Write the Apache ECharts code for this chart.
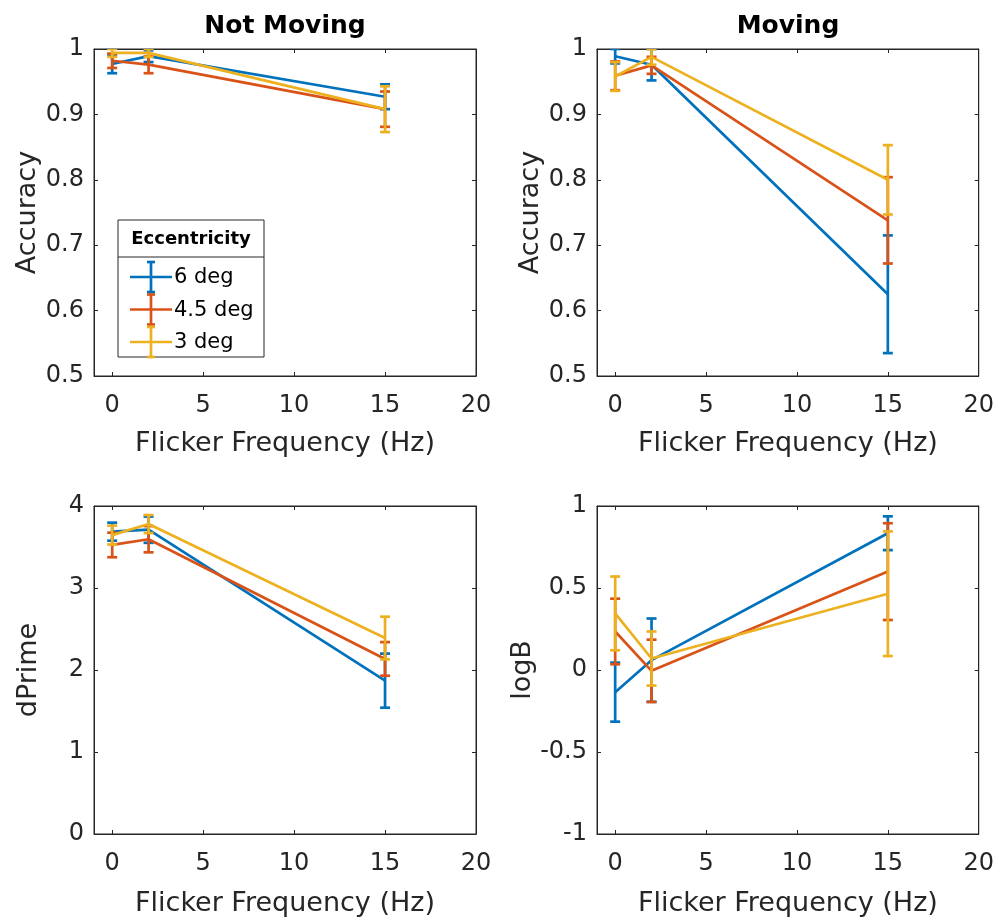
<!DOCTYPE html>
<html><head><meta charset="utf-8">
<script src="https://cdn.jsdelivr.net/npm/echarts@6/dist/echarts.min.js"></script>
<style>html,body{margin:0;padding:0;background:#fff}#c{width:997px;height:920px}</style>
</head><body><div id="c"></div><script>
// ---------- data ----------
const freqs = [0, 2, 15];
const seriesNames = ['6 deg', '4.5 deg', '3 deg'];
const xTicks = [0, 5, 10, 15, 20];
const panelTitles = ['Not Moving', 'Moving'];
const xName = 'Flicker Frequency (Hz)';
const yNames = ['Accuracy', 'Accuracy', 'dPrime', 'logB'];

// Not Moving - Accuracy
const accStill6 = [0.977, 0.989, 0.927];
const accStill6Err = [0.014, 0.009, 0.019];
const accStill45 = [0.982, 0.976, 0.908];
const accStill45Err = [0.011, 0.013, 0.027];
const accStill3 = [0.994, 0.994, 0.908];
const accStill3Err = [0.006, 0.006, 0.035];

// Moving - Accuracy
const accMove6 = [0.989, 0.976, 0.625];
const accMove6Err = [0.011, 0.024, 0.090];
const accMove45 = [0.959, 0.975, 0.738];
const accMove45Err = [0.022, 0.013, 0.066];
const accMove3 = [0.958, 0.988, 0.800];
const accMove3Err = [0.022, 0.012, 0.053];

// Not Moving - dPrime
const dpStill6 = [3.687, 3.711, 1.870];
const dpStill6Err = [0.110, 0.160, 0.330];
const dpStill45 = [3.525, 3.595, 2.135];
const dpStill45Err = [0.150, 0.160, 0.205];
const dpStill3 = [3.645, 3.780, 2.390];
const dpStill3Err = [0.115, 0.110, 0.260];

// Moving - logB
const lbMove6 = [-0.135, 0.060, 0.834];
const lbMove6Err = [0.180, 0.254, 0.103];
const lbMove45 = [0.235, -0.005, 0.600];
const lbMove45Err = [0.200, 0.190, 0.295];
const lbMove3 = [0.345, 0.070, 0.465];
const lbMove3Err = [0.225, 0.165, 0.380];

// ---------- layout / style ----------
const colors = ['#0072BD', '#D95319', '#EDB120'];
const FONT = 'DejaVu Sans';
const AX = '#262626';
const LW = 2.7;
const panels = [
  {grid:{left:94, top:49, width:382, height:327}, y:[0.5,1,0.1], vals:[[accStill6,accStill6Err],[accStill45,accStill45Err],[accStill3,accStill3Err]]},
  {grid:{left:597, top:49, width:382, height:327}, y:[0.5,1,0.1], vals:[[accMove6,accMove6Err],[accMove45,accMove45Err],[accMove3,accMove3Err]]},
  {grid:{left:94, top:506, width:382, height:328}, y:[0,4,1], vals:[[dpStill6,dpStill6Err],[dpStill45,dpStill45Err],[dpStill3,dpStill3Err]]},
  {grid:{left:597, top:506, width:382, height:328}, y:[-1,1,0.5], vals:[[lbMove6,lbMove6Err],[lbMove45,lbMove45Err],[lbMove3,lbMove3Err]]}
];

const grids = [], xAxes = [], yAxes = [], series = [];
const fmt = v => String(parseFloat(Number(v).toFixed(2)));

panels.forEach((p, pi) => {
  grids.push(Object.assign({show:true, borderColor:AX, borderWidth:1, backgroundColor:'#fff', containLabel:false}, p.grid));
  const baseX = {gridIndex:pi, type:'value', min:-1, max:20,
    splitLine:{show:false}, axisLine:{show:true, onZero:false, lineStyle:{color:AX, width:1}}};
  xAxes.push(Object.assign({}, baseX, {position:'bottom',
    name:xName, nameLocation:'middle', nameGap:pi < 2 ? 54 : 56,
    nameTextStyle:{fontFamily:FONT, fontSize:27, color:AX},
    axisTick:{show:true, inside:true, length:4, lineStyle:{color:AX}, customValues:xTicks},
    axisLabel:{show:true, margin:18, fontFamily:FONT, fontSize:24, color:AX, customValues:xTicks, formatter:fmt}}));
  xAxes.push(Object.assign({}, baseX, {position:'top',
    axisTick:{show:true, inside:true, length:4, lineStyle:{color:AX}, customValues:xTicks},
    axisLabel:{show:false}}));
  const baseY = {gridIndex:pi, type:'value', min:p.y[0], max:p.y[1], interval:p.y[2],
    splitLine:{show:false}, axisLine:{show:true, onZero:false, lineStyle:{color:AX, width:1}}};
  yAxes.push(Object.assign({}, baseY, {position:'left',
    name:yNames[pi], nameLocation:'middle', nameGap:52, nameRotate:90,
    nameTextStyle:{fontFamily:FONT, fontSize:27, color:AX},
    axisTick:{show:true, inside:true, length:4, lineStyle:{color:AX}},
    axisLabel:{show:true, margin:10, padding:[7,0,0,0], fontFamily:FONT, fontSize:24, color:AX, formatter:fmt}}));
  yAxes.push(Object.assign({}, baseY, {position:'right',
    axisTick:{show:true, inside:true, length:4, lineStyle:{color:AX}},
    axisLabel:{show:false}}));

  p.vals.forEach((pair, si) => {
    const [m, e] = pair;
    const col = colors[si];
    series.push({
      type:'line', name:seriesNames[si], xAxisIndex:2*pi, yAxisIndex:2*pi,
      data: freqs.map((f, k) => [f, m[k]]),
      showSymbol:false, symbol:'none', lineStyle:{color:col, width:LW}, itemStyle:{color:col},
      z:2+si, silent:true, animation:false, clip:true
    });
    series.push({
      type:'custom', name:seriesNames[si], xAxisIndex:2*pi, yAxisIndex:2*pi,
      data: freqs.map((f, k) => [f, m[k], e[k]]),
      encode:{x:0, y:1},
      z:2+si, silent:true, animation:false, clip:true,
      renderItem: (params, api) => {
        const x = api.value(0), y = api.value(1), er = api.value(2);
        const t = api.coord([x, y + er]);
        const b = api.coord([x, y - er]);
        const cw = 5;
        const st = {stroke:col, lineWidth:LW, fill:null};
        return {type:'group', children:[
          {type:'line', shape:{x1:t[0], y1:t[1], x2:b[0], y2:b[1]}, style:st},
          {type:'line', shape:{x1:t[0]-cw, y1:t[1], x2:t[0]+cw, y2:t[1]}, style:st},
          {type:'line', shape:{x1:b[0]-cw, y1:b[1], x2:b[0]+cw, y2:b[1]}, style:st}
        ]};
      }
    });
  });
});

// ---------- titles + legend (graphics) ----------
const graphics = [];
panelTitles.forEach((t, i) => {
  const g = panels[i].grid;
  graphics.push({type:'text', x:g.left + g.width/2, y:26, z:10,
    style:{text:t, fontFamily:FONT, fontWeight:'bold', fontSize:25, fill:'#000', align:'center', verticalAlign:'middle'}});
});
const lg = {x:118, y:220, w:146, h:137, head:37, row0:277, rowStep:32.5};
const legendChildren = [
  {type:'rect', shape:{x:lg.x, y:lg.y, width:lg.w, height:lg.h}, style:{fill:'#fff', stroke:AX, lineWidth:1}},
  {type:'line', shape:{x1:lg.x, y1:lg.y+lg.head, x2:lg.x+lg.w, y2:lg.y+lg.head}, style:{stroke:AX, lineWidth:1}},
  {type:'text', x:lg.x + lg.w/2, y:lg.y + lg.head/2 + 1, style:{text:'Eccentricity', fontFamily:FONT, fontWeight:'bold', fontSize:18, fill:'#000', align:'center', verticalAlign:'middle'}}
];
seriesNames.forEach((n, i) => {
  const cy = lg.row0 + i*lg.rowStep;
  const st = {stroke:colors[i], lineWidth:LW};
  legendChildren.push(
    {type:'line', shape:{x1:130, y1:cy, x2:172, y2:cy}, style:st},
    {type:'line', shape:{x1:151, y1:cy-15, x2:151, y2:cy+15}, style:st},
    {type:'line', shape:{x1:147, y1:cy-15, x2:155, y2:cy-15}, style:st},
    {type:'line', shape:{x1:147, y1:cy+15, x2:155, y2:cy+15}, style:st},
    {type:'text', x:174, y:cy + 1, style:{text:n, fontFamily:FONT, fontSize:21, fill:'#000', align:'left', verticalAlign:'middle'}}
  );
});
graphics.push({type:'group', z:20, children:legendChildren});

const chart = echarts.init(document.getElementById('c'), null, {renderer:'canvas'});
chart.setOption({
  backgroundColor:'#fff',
  animation:false,
  grid:grids, xAxis:xAxes, yAxis:yAxes, series:series,
  graphic:graphics
});
</script></body></html>
